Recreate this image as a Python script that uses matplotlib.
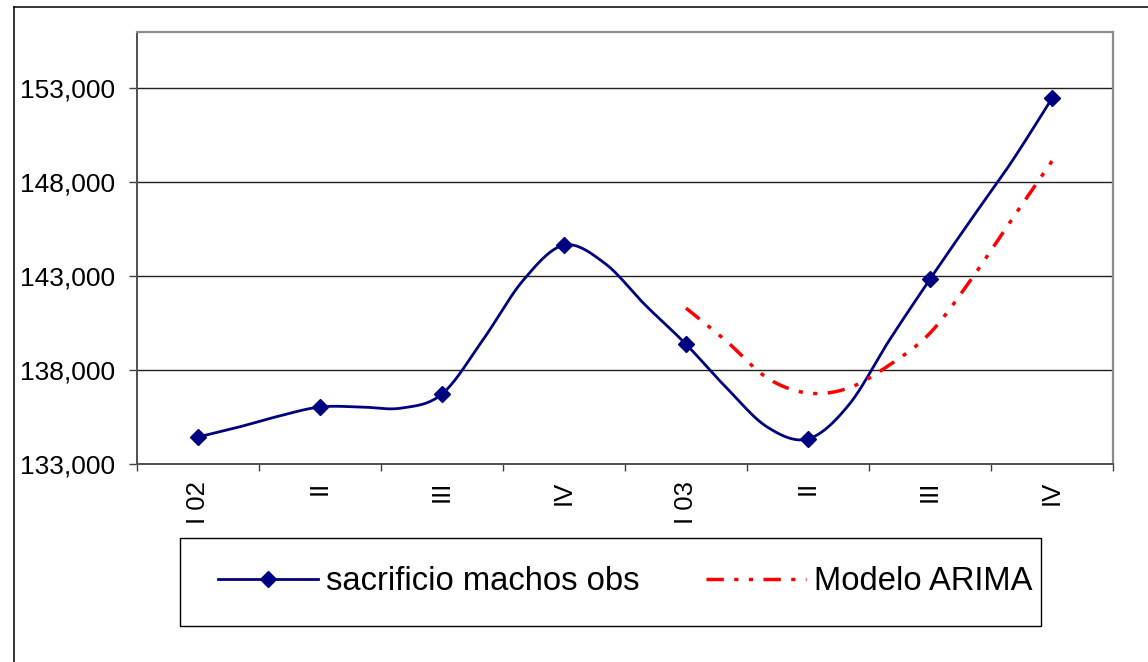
import numpy as np
import matplotlib
matplotlib.use('Agg')
import matplotlib.pyplot as plt
from matplotlib.lines import Line2D
from matplotlib.patches import Rectangle

plt.rcParams['font.family'] = ['Liberation Sans', 'DejaVu Sans']

# monthly slaughter of males (observed) and the ARIMA fit, 2002-2003
quarter_labels = ['I 02', 'II', 'III', 'IV', 'I 03', 'II', 'III', 'IV']
obs = [134450, 134980, 135570, 136050, 136050, 135990, 136740, 139600,
       142800, 144660, 143700, 141470, 139390, 137060, 134980, 134350,
       136150, 139600, 142850, 145990, 149070, 152470]
arima = [141310, 139540, 137590, 136790, 137060, 138280, 139980, 142800,
         145990, 149130]

obs_x = np.arange(1, 1 + len(obs))
arima_x = np.arange(obs_x[-1] - len(arima) + 1, obs_x[-1] + 1)


def smooth(x, y, n=20):
    # excel-style smoothed line: bezier segments with catmull-rom handles
    x = np.asarray(x, float)
    y = np.asarray(y, float)
    px = np.r_[x[0], x, x[-1]]
    py = np.r_[y[0], y, y[-1]]
    xs, ys = [], []
    for i in range(1, len(px) - 2):
        t = np.linspace(0, 1, n, endpoint=(i == len(px) - 3))[:, None]
        p0 = np.array([px[i], py[i]])
        p3 = np.array([px[i + 1], py[i + 1]])
        c1 = p0 + (np.array([px[i + 1], py[i + 1]]) - np.array([px[i - 1], py[i - 1]])) / 6
        c2 = p3 - (np.array([px[i + 2], py[i + 2]]) - p0) / 6
        b = ((1 - t) ** 3) * p0 + 3 * ((1 - t) ** 2) * t * c1 + 3 * (1 - t) * t ** 2 * c2 + t ** 3 * p3
        xs.append(b[:, 0])
        ys.append(b[:, 1])
    return np.concatenate(xs), np.concatenate(ys)


W, H = 1148, 662
fig = plt.figure(figsize=(W / 100, H / 100), dpi=100)
ax = fig.add_axes([137 / W, 1 - 464.3 / H, (1113 - 137) / W, (464.3 - 32) / H])

navy = '#000080'
red_dash = (5.0, 3.0, 1.2, 3.0, 1.2, 3.0)

sx, sy = smooth(obs_x, obs)
ax.plot(sx, sy, color=navy, lw=2.0, zorder=3)
ax.plot(obs_x[::3], obs[::3], ls='none', marker='D', ms=8, color=navy, zorder=4)

rx, ry = smooth(arima_x, arima)
ax.plot(rx, ry, color='red', lw=2.5, dashes=red_dash, dash_capstyle='butt', zorder=3)

ax.set_xlim(-0.5, 23.5)
ax.set_ylim(133000, 156000)
ax.set_yticks(np.arange(133000, 154000, 5000))
ax.set_yticklabels(['{:,}'.format(v) for v in range(133000, 154000, 5000)], fontsize=19)
ax.yaxis.grid(True, color='#202020', lw=1.0)
ax.set_axisbelow(True)

ax.set_xticks(np.arange(-0.5, 24, 3))
ax.set_xticklabels([])
ax.set_xticks(np.arange(1, 24, 3), minor=True)
ax.set_xticklabels(quarter_labels, minor=True, rotation=90, fontsize=18.5, va='top')
ax.tick_params(axis='x', which='major', direction='out', length=5, width=1, color='#404040')
ax.tick_params(axis='x', which='minor', length=0, pad=12)
ax.tick_params(axis='y', direction='out', length=5.5, width=1, color='#404040', pad=10)

for side in ['top', 'right']:
    ax.spines[side].set_color('#8c8c8c')
    ax.spines[side].set_linewidth(1.6)
for side in ['left', 'bottom']:
    ax.spines[side].set_color('#505050')
    ax.spines[side].set_linewidth(1.4)

# chart frame (left and top edges)
fig.add_artist(Line2D([14 / W, 14 / W], [0, 1 - 7 / H], transform=fig.transFigure, color='black', lw=1.1))
fig.add_artist(Line2D([14 / W, 1], [1 - 7 / H, 1 - 7 / H], transform=fig.transFigure, color='black', lw=1.1))

# legend box
fig.add_artist(Rectangle((180 / W, 1 - 626 / H), (1041 - 180) / W, 88 / H,
                         transform=fig.transFigure, fill=False, ec='black', lw=1.0))
handles = [Line2D([], [], color=navy, lw=2.0, marker='D', ms=8),
           Line2D([], [], color='red', lw=2.5, dashes=red_dash, dash_capstyle='butt')]
fs = 23.6 * 100 / 72
fig.legend(handles, ['sacrificio machos obs', 'Modelo ARIMA'], ncol=2, loc='center left',
           bbox_to_anchor=(202 / W, 1 - 582 / H), frameon=False, borderpad=0, fontsize=23.6,
           handlelength=100 / fs, handletextpad=8 / fs, columnspacing=66 / fs)

fig.savefig('out.png', dpi=100)
